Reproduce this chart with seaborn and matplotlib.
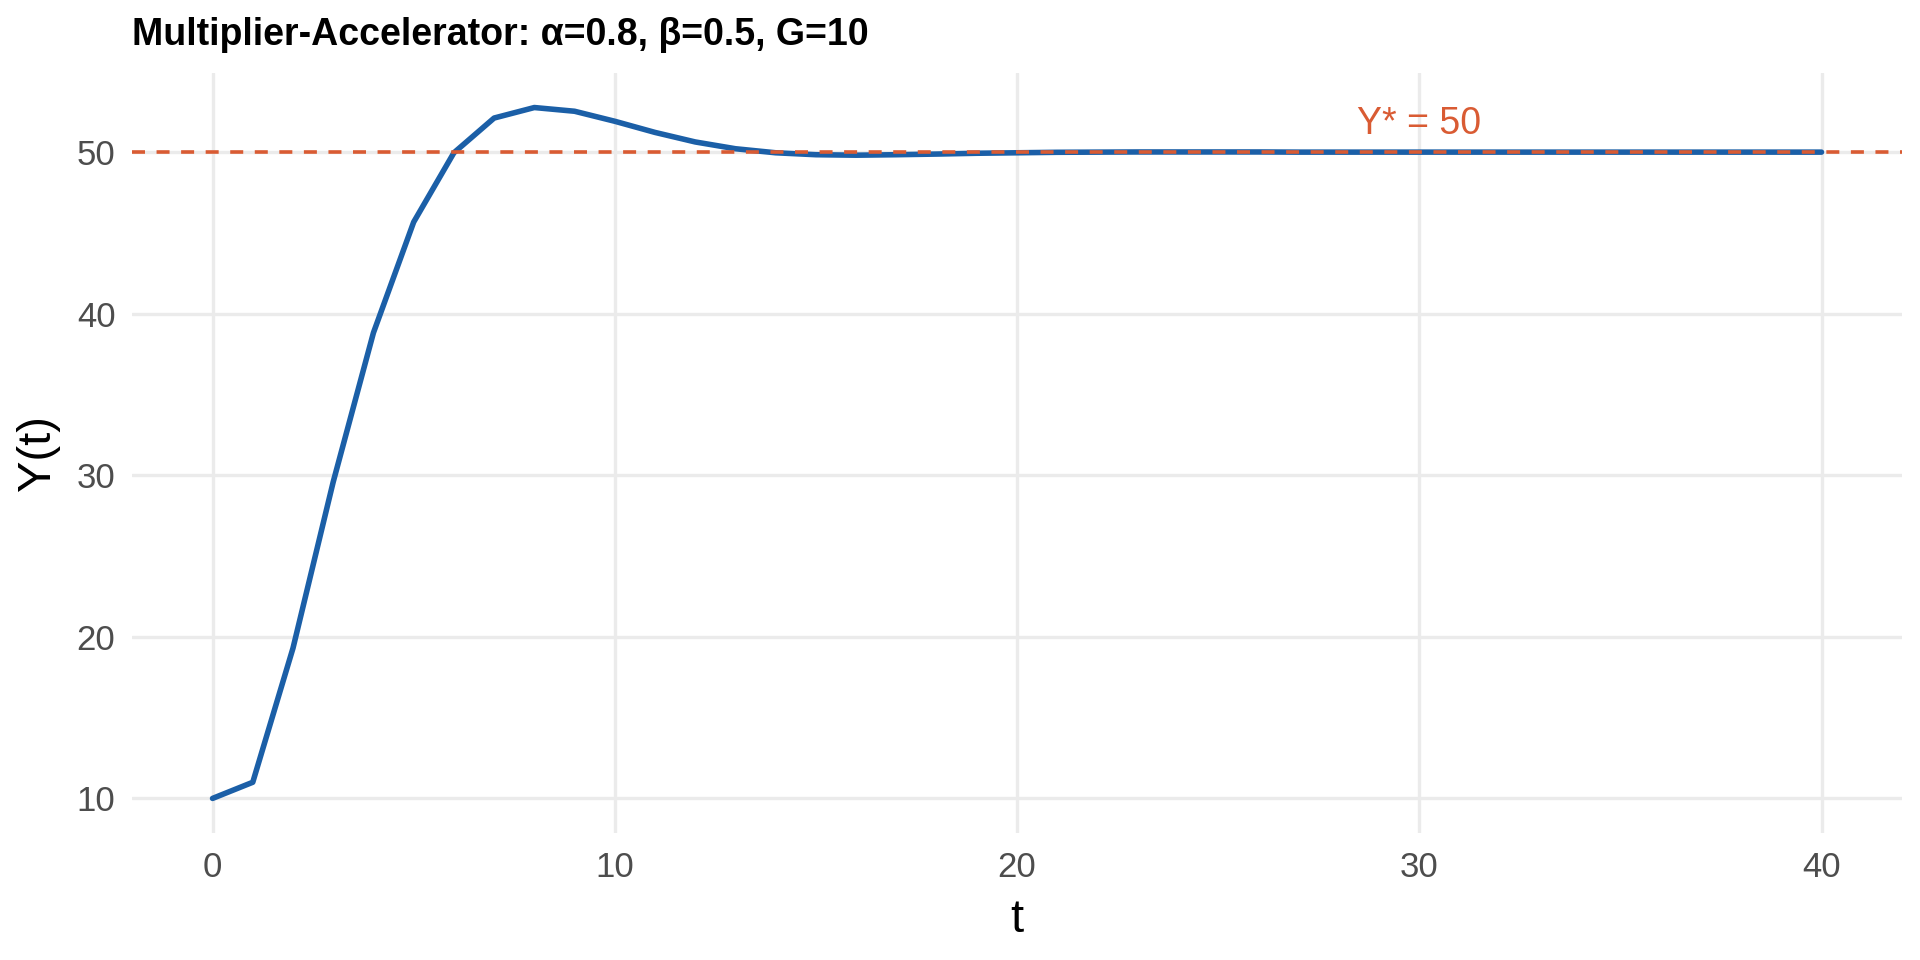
import numpy as np
import pandas as pd
import seaborn as sns
import matplotlib.pyplot as plt

# Data
t = list(range(41))
y_vals = [10.00, 11.00, 19.30, 29.59, 38.82, 45.67, 49.96, 52.11, 52.76, 52.53,
          51.91, 51.22, 50.63, 50.21, 49.96, 49.84, 49.81, 49.84, 49.88, 49.93,
          49.96, 49.99, 50.00, 50.01, 50.01, 50.01, 50.01, 50.00, 50.00, 50.00,
          50.00, 50.00, 50.00, 50.00, 50.00, 50.00, 50.00, 50.00, 50.00, 50.00,
          50.00]
y_star = 50
x_ticks = [0, 10, 20, 30, 40]
y_ticks = [10, 20, 30, 40, 50]
df = pd.DataFrame({'t': t, 'Y': y_vals})

line_col = '#1B5FA7'
eq_col = '#D95B33'
grid_col = '#EBEBEB'

sns.set_theme(style='white')
plt.rcParams['font.family'] = ['Liberation Sans', 'DejaVu Sans']

fig = plt.figure(figsize=(9.6, 4.8), dpi=200)
ax = fig.add_axes([0.0688, 0.1323, 0.9218, 0.7917])

sns.lineplot(df, x='t', y='Y', color=line_col, lw=2.0, ax=ax, zorder=2)
ax.axhline(y_star, color=eq_col, lw=1.3, ls=(0, (3.6, 3.2)), zorder=3)

ax.text(30, 51.75, 'Y* = 50', color=eq_col, fontsize=13.5, ha='center', va='center')

ax.set_xlim(-2, 42)
ax.set_ylim(7.86, 54.9)
ax.set_xticks(x_ticks)
ax.set_yticks(y_ticks)
ax.grid(True, color=grid_col, lw=1.2, zorder=0)
ax.set_axisbelow(True)
for s in ax.spines.values():
    s.set_visible(False)
ax.tick_params(axis='both', length=0, labelsize=12.5, labelcolor='#4D4D4D')
ax.tick_params(axis='y', pad=6)
ax.tick_params(axis='x', pad=6.5)

ax.set_xlabel('t', fontsize=17, color='black', labelpad=5)
ax.set_ylabel('Y(t)', fontsize=17, color='black', labelpad=6)
ax.set_title('Multiplier-Accelerator: α=0.8, β=0.5, G=10', loc='left',
             fontsize=13.5, fontweight='bold', color='black', pad=10)

fig.savefig('out.png', dpi=200)
